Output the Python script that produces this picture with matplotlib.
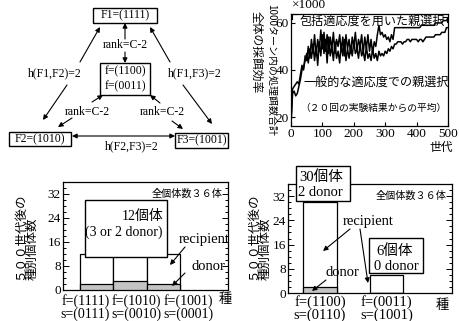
import numpy as np
import matplotlib
matplotlib.use('Agg')
import matplotlib.pyplot as plt
from matplotlib.patches import Rectangle
from matplotlib.ticker import MultipleLocator

plt.rcParams['font.family'] = ['Liberation Serif', 'Noto Sans CJK JP']
JP = ['Noto Sans CJK JP', 'DejaVu Sans']

W, H = 460, 321

# ---------------- data ----------------
generations = np.arange(0, 501, 5)
general_fitness = [
    18, 30, 31, 29, 30, 33, 36, 40, 41, 44,
    47, 43, 49, 45, 51, 44, 50, 42, 52, 46,
    55, 47, 53, 43, 54, 46, 50, 44, 52, 45,
    48, 43, 51, 46, 53, 44, 49, 45, 50, 46,
    52, 47, 49, 45, 51, 46, 48, 44, 50, 45,
    47, 44, 49, 45, 47, 44, 48, 46, 47, 46,
    48, 47, 49, 48, 50, 49, 51, 51, 52, 52,
    52, 51, 52, 52, 53, 53, 52, 53, 53, 53,
    53, 52, 53, 53, 52, 53, 54, 54, 54, 54,
    54, 54, 55, 55, 55, 55, 56, 56, 56, 58,
    58]
inclusive_fitness = [
    17, 32, 33, 34, 35, 34, 38, 42, 40, 46,
    44, 50, 45, 53, 47, 55, 46, 53, 48, 57,
    49, 56, 48, 55, 47, 54, 49, 56, 47, 53,
    50, 55, 48, 54, 46, 55, 49, 53, 47, 54,
    50, 56, 48, 53, 50, 55, 47, 54, 49, 55,
    48, 53, 47, 52, 50, 55, 59, 55, 56, 54,
    55, 53, 54, 52, 55, 53, 58, 58, 58, 58,
    58, 58, 58, 58, 58, 58, 58, 58, 58, 58,
    58, 58, 58, 59, 59, 59, 59, 59, 59, 59,
    59, 59, 60, 60, 60, 60, 60, 61, 61, 61,
    62]

left_species = ['f=(1111)\ns=(0111)', 'f=(1010)\ns=(0010)', 'f=(1001)\ns=(0001)']
left_total = [12, 12, 12]
left_donor = [2, 3, 2]

right_species = ['f=(1100)\ns=(0110)', 'f=(0011)\ns=(1001)']
right_total = [30, 6]
right_donor = [2, 0]

fig = plt.figure(figsize=(W / 100, H / 100), dpi=100)


def px_axes(l, t, r, b):
    return fig.add_axes([l / W, 1 - b / H, (r - l) / W, (b - t) / H])


# ---------------- line chart ----------------
ax1 = px_axes(291, 14, 448, 126)
ax1.plot(generations, inclusive_fitness, color='k', lw=1.1)
ax1.plot(generations, general_fitness, color='k', lw=1.1)
ax1.set_xlim(0, 500)
ax1.set_ylim(16.2, 63.8)
ax1.set_xticks(range(0, 501, 100))
ax1.set_yticks([20, 40, 60])
ax1.tick_params(direction='in', length=3, labelsize=9.5, pad=1.5, width=0.8)
for s in ax1.spines.values():
    s.set_linewidth(0.9)


def bar_axes(ax, xs, total, donor, width):
    ax.bar(xs, total, width=width, color='white', edgecolor='k', lw=0.9, zorder=2)
    ax.bar(xs, donor, width=width, color='#c4c4c4', edgecolor='k', lw=0.9, zorder=3)
    ax.set_ylim(0, 36)
    ax.set_yticks([0, 8, 16, 24, 32])
    ax.yaxis.set_minor_locator(MultipleLocator(2))
    ax.tick_params(axis='y', which='both', direction='in', left=True, right=True,
                   labelsize=9.5, pad=1.5, width=0.7)
    ax.tick_params(axis='y', which='major', length=4)
    ax.tick_params(axis='y', which='minor', length=2)
    for s in ax.spines.values():
        s.set_linewidth(0.9)


# ---------------- left bar chart ----------------
ax2 = px_axes(63, 182, 228, 290)
xl = np.arange(len(left_total))
bar_axes(ax2, xl, left_total, left_donor, 1.0)
ax2.set_xlim(-1.01, 3.94)
ax2.set_xticks(xl, labels=['', '', ''])
ax2.set_xticks([-0.34, 1.18, 2.74], labels=left_species, minor=True)
ax2.tick_params(axis='x', which='major', direction='in', length=3, width=0.7)
ax2.tick_params(axis='x', which='minor', length=0, labelsize=10, pad=3)
for lab in ax2.get_xticklabels(minor=True):
    lab.set_linespacing(0.95)

# ---------------- right bar chart ----------------
ax3 = px_axes(288, 184, 452, 293)
xr = np.arange(len(right_total))
bar_axes(ax3, xr, right_total, right_donor, 0.5)
ax3.set_xlim(-0.48, 1.985)
ax3.set_xticks(xr, labels=right_species)
ax3.tick_params(axis='x', direction='in', length=3, width=0.7, labelsize=10.5, pad=1.5)
for lab in ax3.get_xticklabels():
    lab.set_linespacing(0.95)

# ---------------- overlay (pixel coordinates) ----------------
ov = fig.add_axes([0, 0, 1, 1])
ov.set_xlim(0, W)
ov.set_ylim(H, 0)
ov.axis('off')


def box(l, t, r, b, lw=1.0):
    ov.add_patch(Rectangle((l, t), r - l, b - t, facecolor='white', edgecolor='k', lw=lw, zorder=5))


def arrow(x0, y0, x1, y1, style='-|>'):
    ov.annotate('', xy=(x1, y1), xytext=(x0, y0),
                arrowprops=dict(arrowstyle=style, color='k', lw=0.8, shrinkA=0, shrinkB=0,
                                mutation_scale=7), zorder=6)


def txt(x, y, s, size=8.5, ha='center', family=None, **kw):
    d = dict(ha=ha, va='center', fontsize=size, zorder=7)
    if family is not None:
        d['family'] = family
    d.update(kw)
    ov.text(x, y, s, **d)


# diagram
box(93, 8, 157, 23)
txt(125, 15.5, 'F1=(1111)')
box(100, 63, 150, 95)
txt(125, 71, 'f=(1100)')
txt(125, 86, 'f=(0011)')
box(9, 132, 71, 146)
txt(40, 139, 'F2=(1010)')
box(175, 133, 228, 148)
txt(201.5, 140.5, 'F3=(1001)')

txt(125, 45, 'rank=C-2')
txt(55, 73, 'h(F1,F2)=2')
txt(195, 73, 'h(F1,F3)=2')
txt(87, 112, 'rank=C-2')
txt(162, 112, 'rank=C-2')
txt(132, 146, 'h(F2,F3)=2')

arrow(125, 39, 125, 23)
arrow(125, 52, 125, 63)
arrow(80, 62, 100, 27)
arrow(67, 85, 43, 120)
arrow(170, 62, 150, 27)
arrow(183, 85, 212, 124)
arrow(72, 136, 175, 136, style='<|-|>')
arrow(92, 102, 103, 95)
arrow(72, 118, 58, 127)
arrow(160, 103, 150, 95)
arrow(172, 121, 183, 129)

# line chart annotations
txt(309, 5, '×1000', size=9.5)
txt(372, 21, '包括適応度を用いた親選択', size=8.7, family=JP)
ov.plot([292, 292, 296], [19, 14, 14], color='k', lw=0.8, zorder=6)
ov.plot([443, 447, 447], [17, 17, 22], color='k', lw=0.8, zorder=6)
txt(376, 82, '一般的な適応度での親選択', size=8.7, family=JP)
txt(373, 108, '（２０回の実験結果からの平均）', size=7, family=JP)
txt(441, 147, '世代', size=8.5, family=JP)
txt(256, 52, '全体の採餌効率', size=8.5, family=JP, rotation=-90)
txt(271.5, 70, '1000ターン内の処理餌数合計', size=7.2, family=JP, rotation=-90)

# left bar chart annotations
txt(223, 194, '全個体数３６体', size=7.3, ha='right', family=JP)
box(85, 200, 167, 257)
txt(163, 216, '12個体', size=10, ha='right')
txt(163, 232, '(3 or 2 donor)', size=10, ha='right')
txt(204, 240, 'recipient', size=10.5)
arrow(185, 247, 170, 265)
txt(208, 267, 'donor', size=10.5)
arrow(185, 273, 172, 286)
txt(225, 299, '種', size=9.5, family=JP)
fig.text(26 / W, 1 - 280 / H, '５００世代後の\n種別個体数', rotation=90, ha='center', va='bottom',
         multialignment='left', fontsize=9, family=JP, linespacing=1.0)

# right bar chart annotations
box(296, 166, 350, 201)
txt(299, 177, '30個体', size=10.5, ha='left')
txt(298, 193, '2 donor', size=10.5, ha='left')
box(369, 238, 423, 273)
txt(376, 251, '6個体', size=10.5, ha='left')
txt(374, 266, '0 donor', size=10.5, ha='left')
txt(447, 196, '全個体数３６体', size=7.3, ha='right', family=JP)
txt(368, 222, 'recipient', size=10.5)
arrow(350, 229, 323, 251)
arrow(360, 229, 368, 283)
txt(342, 273, 'donor', size=10.5)
arrow(326, 280, 312, 291)
txt(442, 305, '種', size=9.5, family=JP)
fig.text(259 / W, 1 - 280 / H, '５００世代後の\n種別個体数', rotation=90, ha='center', va='bottom',
         multialignment='left', fontsize=9, family=JP, linespacing=1.0)

fig.savefig('out.png', dpi=100)
